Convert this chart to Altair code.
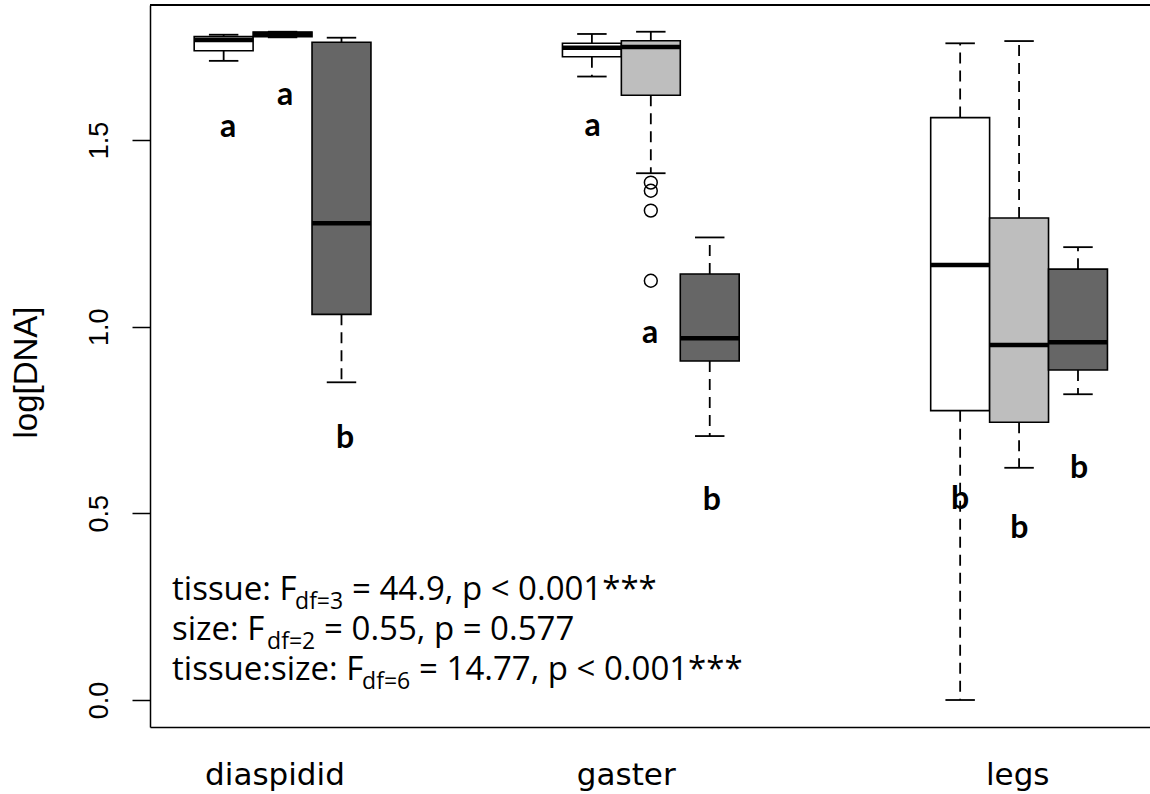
import altair as alt
import pandas as pd

# ---- data ----
tissues = ["diaspidid"] * 3 + ["gaster"] * 3 + ["legs"] * 3
sizes = ["small", "medium", "large"] * 3
positions = [0.84, 1.0, 1.16, 1.84, 2.0, 2.16, 2.84, 3.0, 3.16]
lower_whisker = [1.712, 1.775, 0.851, 1.670, 1.411, 0.707, 0.000, 0.622, 0.819]
q1 = [1.739, 1.777, 1.033, 1.723, 1.620, 0.908, 0.775, 0.744, 0.884]
median = [1.768, 1.784, 1.277, 1.747, 1.749, 0.969, 1.165, 0.951, 0.958]
q3 = [1.777, 1.789, 1.762, 1.759, 1.766, 1.141, 1.560, 1.291, 1.154]
upper_whisker = [1.782, 1.790, 1.774, 1.784, 1.790, 1.239, 1.759, 1.765, 1.213]

outlier_pos = [2.0, 2.0, 2.0, 2.0]
outlier_vals = [1.386, 1.364, 1.311, 1.123]

letters = ["a", "a", "b", "a", "a", "b", "b", "b", "b"]
letter_x = [0.852, 1.007, 1.170, 1.842, 1.998, 2.166, 2.840, 3.001, 3.163]
letter_y = [1.509, 1.594, 0.674, 1.511, 0.957, 0.509, 0.511, 0.433, 0.594]

group_labels = ["diaspidid", "gaster", "legs"]
group_label_pos = [0.978, 1.932, 2.995]

stat_main = ["tissue: F", "size: F", "tissue:size: F"]
stat_sub = ["df=3", "df=2", "df=6"]
stat_rest = ["= 44.9, p < 0.001***", "= 0.55, p = 0.577", "= 14.77, p < 0.001***"]
stat_main_x = [0.6999, 0.6999, 0.6999]
stat_sub_x = [1.0339, 0.9579, 1.2159]
stat_rest_x = [1.1887, 1.1127, 1.3707]
stat_y = [0.2679, 0.1607, 0.0536]
stat_sub_y = [0.2438, 0.1366, 0.0295]

size_colors = ["#FFFFFF", "#BEBEBE", "#666666"]
half_box = 0.08
half_staple = 0.04

# ---- tables ----
boxes = pd.DataFrame({
    "tissue": tissues, "size": sizes, "pos": positions,
    "lo": lower_whisker, "q1": q1, "med": median, "q3": q3, "hi": upper_whisker,
})
boxes["left"] = boxes["pos"] - half_box
boxes["right"] = boxes["pos"] + half_box
boxes["sl"] = boxes["pos"] - half_staple
boxes["sr"] = boxes["pos"] + half_staple

whisk = pd.concat([
    pd.DataFrame({"pos": positions, "start": q1, "end": lower_whisker}),
    pd.DataFrame({"pos": positions, "start": q3, "end": upper_whisker}),
])
staples = pd.concat([
    pd.DataFrame({"sl": boxes["sl"], "sr": boxes["sr"], "v": lower_whisker}),
    pd.DataFrame({"sl": boxes["sl"], "sr": boxes["sr"], "v": upper_whisker}),
])
outliers = pd.DataFrame({"pos": outlier_pos, "v": outlier_vals})
letter_df = pd.DataFrame({"t": letters, "x": letter_x, "y": letter_y})
stats_main = pd.DataFrame({"t": stat_main + stat_rest,
                           "x": stat_main_x + stat_rest_x,
                           "y": stat_y + stat_y})
stats_sub = pd.DataFrame({"t": stat_sub, "x": stat_sub_x, "y": stat_sub_y})

W, H = 1000, 722
xdom = [0.64, 0.64 + W / 368.25]
ydom = [-0.0723, 1.8616]

xs = alt.Scale(domain=xdom, nice=False, zero=False)
ys = alt.Scale(domain=ydom, nice=False, zero=False)

label_expr = ("datum.value < 1.5 ? 'diaspidid' : (datum.value < 2.5 ? 'gaster' : 'legs')")

x_axis = alt.Axis(values=group_label_pos, labelExpr=label_expr, ticks=False, tickSize=0,
                  domain=True, domainColor="black", domainWidth=1.5, grid=False,
                  labelFont="DejaVu Sans", labelFontSize=31, labelColor="black",
                  labelBaseline="top", labelPadding=33, labelBound=False,
                  labelOverlap=False, title=None)
y_axis = alt.Axis(values=[0, 0.5, 1.0, 1.5], format=".1f", grid=False,
                  domain=True, domainColor="black", domainWidth=1.5,
                  ticks=True, tickSize=18, tickWidth=1.5, tickColor="black",
                  labelAngle=270, labelAlign="center", labelBaseline="alphabetic",
                  labelPadding=25, labelFont="Liberation Sans", labelFontSize=27,
                  labelColor="black", title="log[DNA]", titleFont="Liberation Sans",
                  titleFontSize=33, titleFontWeight="normal", titleColor="black",
                  titleAngle=270, titleAlign="center", titleBaseline="alphabetic",
                  titleX=-114, titleY=367)

whisker_layer = alt.Chart(whisk).mark_rule(
    color="black", strokeWidth=1.8, strokeDash=[11, 7]
).encode(
    x=alt.X("pos:Q", scale=xs, axis=x_axis),
    y=alt.Y("start:Q", scale=ys, axis=y_axis),
    y2="end:Q",
)

staple_layer = alt.Chart(staples).mark_rule(color="black", strokeWidth=1.8).encode(
    x=alt.X("sl:Q", scale=xs), x2="sr:Q", y=alt.Y("v:Q", scale=ys)
)

box_layer = alt.Chart(boxes).mark_rect(stroke="black", strokeWidth=1.6).encode(
    x=alt.X("left:Q", scale=xs), x2="right:Q",
    y=alt.Y("q1:Q", scale=ys), y2="q3:Q",
    fill=alt.Fill("size:N", scale=alt.Scale(domain=["small", "medium", "large"],
                                            range=size_colors), legend=None),
)

median_layer = alt.Chart(boxes).mark_rule(color="black", strokeWidth=4.5).encode(
    x=alt.X("left:Q", scale=xs), x2="right:Q", y=alt.Y("med:Q", scale=ys)
)

outlier_layer = alt.Chart(outliers).mark_point(
    shape="circle", filled=False, size=165, stroke="black", strokeWidth=1.5, opacity=1
).encode(x=alt.X("pos:Q", scale=xs), y=alt.Y("v:Q", scale=ys))

letter_layer = alt.Chart(letter_df).mark_text(
    font="Lato", fontSize=32, fontWeight="bold", color="black",
    align="center", baseline="alphabetic"
).encode(x=alt.X("x:Q", scale=xs), y=alt.Y("y:Q", scale=ys), text="t:N")

stats_main_layer = alt.Chart(stats_main).mark_text(
    font="Open Sans", fontSize=33, color="black", align="left", baseline="alphabetic"
).encode(x=alt.X("x:Q", scale=xs), y=alt.Y("y:Q", scale=ys), text="t:N")

stats_sub_layer = alt.Chart(stats_sub).mark_text(
    font="Open Sans", fontSize=23, color="black", align="left", baseline="alphabetic"
).encode(x=alt.X("x:Q", scale=xs), y=alt.Y("y:Q", scale=ys), text="t:N")

top_frame = alt.Chart(boxes).mark_rule(color="black", strokeWidth=1.5).encode(
    x=alt.value(0), x2=alt.value(W), y=alt.value(0)
)

chart = alt.layer(
    whisker_layer, staple_layer, box_layer, median_layer, outlier_layer,
    letter_layer, stats_main_layer, stats_sub_layer, top_frame
).properties(
    width=W, height=H,
    autosize=alt.AutoSizeParams(type="none"),
    padding={"left": 150, "top": 5, "right": 0, "bottom": 67},
    background="white",
).configure_view(stroke="transparent")

chart.save("out.html", embed_options={"renderer": "svg", "actions": False})
